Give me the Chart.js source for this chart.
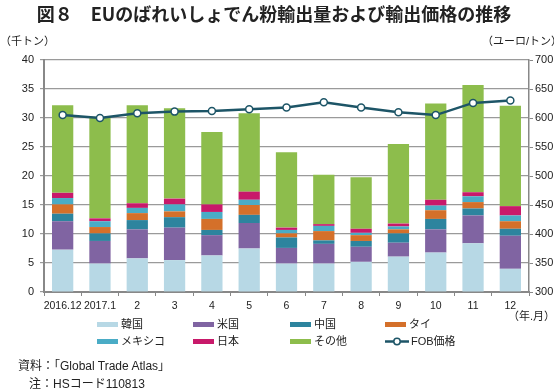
<!DOCTYPE html>
<html>
<head>
<meta charset="utf-8">
<script src="https://cdn.jsdelivr.net/npm/chart.js@4.4.1/dist/chart.umd.min.js"></script>
<style>
  body { margin: 0; background: #fff; }
  .wrap { position: relative; width: 554px; height: 392px; overflow: hidden;
    font-family: "Liberation Sans", "Noto Sans CJK JP", sans-serif; color: #222; }
  canvas { position: absolute; left: 0; top: 0; }
  .title { position: absolute; left: 0; top: 2px; width: 548px; text-align: center;
    font-family: "Noto Sans CJK JP", sans-serif; font-weight: bold; font-size: 18px; line-height: 22px; color: #222; }
  .txt { position: absolute; font-size: 11px; line-height: 13px; white-space: nowrap; }
  .jp { font-family: "Liberation Sans", "Noto Sans CJK JP", sans-serif; }
  .legend { position: absolute; left: 0; top: 318px; width: 554px; height: 36px; }
  .item { position: absolute; font-size: 11px; line-height: 13px; display: flex; align-items: center; white-space: nowrap; }
  .sw { width: 21px; height: 5px; margin-right: 3px; }
  .note { position: absolute; font-size: 12px; line-height: 14px; white-space: nowrap; }
</style>
</head>
<body>
<div class="wrap">
  <canvas id="chart" width="554" height="392"></canvas>
  <div class="title">図８　EUのばれいしょでん粉輸出量および輸出価格の推移</div>
  <div class="txt jp" style="left:0px; top:35px;">（千トン）</div>
  <div class="txt jp" style="left:482px; top:35px;">（ユーロ/トン）</div>
  <div class="txt jp" style="left:508px; top:310px;">（年.月）</div>
  <div class="legend" id="legend"></div>
  <div class="note jp" style="left:18px; top:359px;">資料：「Global Trade Atlas」</div>
  <div class="note jp" style="left:29px; top:377px;">注：HSコード110813</div>
</div>
<script>
const months = ["2016.12", "2017.1", "2", "3", "4", "5", "6", "7", "8", "9", "10", "11", "12"];

// 千トン
const korea = [7.3, 4.9, 5.8, 5.5, 6.3, 7.5, 4.9, 4.9, 5.2, 6.1, 6.8, 8.4, 4.0];
const usa = [4.9, 3.9, 5.0, 5.6, 3.5, 4.4, 2.7, 3.4, 2.6, 2.4, 4.0, 4.8, 5.7];
const china = [1.3, 1.3, 1.6, 1.8, 0.9, 1.4, 1.8, 0.6, 1.0, 1.6, 1.8, 1.2, 1.2];
const thai = [1.6, 1.1, 1.2, 1.0, 1.9, 1.7, 0.7, 1.6, 1.0, 0.7, 1.5, 1.1, 1.3];
const mexico = [1.1, 1.0, 0.9, 1.2, 1.2, 0.9, 0.6, 0.9, 0.4, 0.5, 0.8, 1.0, 1.0];
const japan = [0.9, 0.5, 0.8, 1.0, 1.3, 1.4, 0.4, 0.3, 0.7, 0.5, 1.0, 0.7, 1.6];
const other = [15.1, 17.5, 16.9, 15.6, 12.5, 13.5, 13.0, 8.5, 8.9, 13.7, 16.6, 18.5, 17.3];

// ユーロ/トン
const fobPrice = [605, 600, 608, 611, 612, 615, 618, 627, 618, 610, 605, 626, 630];

const lineColor = "#1D5567";

const barSeries = [
  { label: "韓国", data: korea, color: "#B7D8E5" },
  { label: "米国", data: usa, color: "#8064A2" },
  { label: "中国", data: china, color: "#2D849E" },
  { label: "タイ", data: thai, color: "#D4702A" },
  { label: "メキシコ", data: mexico, color: "#4AACC6" },
  { label: "日本", data: japan, color: "#C8196A" },
  { label: "その他", data: other, color: "#8DBD4C" },
];

const tickFont = { family: "'Liberation Sans', Arial, sans-serif", size: 11 };

const datasets = barSeries.map((s) => ({
  type: "bar",
  label: s.label,
  data: s.data,
  backgroundColor: s.color,
  yAxisID: "y",
  stack: "vol",
  order: 1,
  categoryPercentage: 1,
  barPercentage: 0.57,
}));

datasets.push({
  type: "line",
  label: "FOB価格",
  data: fobPrice,
  yAxisID: "y2",
  borderColor: lineColor,
  borderWidth: 2.5,
  pointRadius: 3.5,
  pointBackgroundColor: "#fff",
  pointBorderColor: lineColor,
  pointBorderWidth: 1.5,
  tension: 0,
  order: 0,
});

new Chart(document.getElementById("chart"), {
  type: "bar",
  data: { labels: months, datasets: datasets },
  options: {
    responsive: false,
    animation: false,
    devicePixelRatio: 1,
    layout: { padding: { top: 60, bottom: 80, left: 0, right: 0 } },
    plugins: {
      legend: { display: false },
      tooltip: { enabled: false },
    },
    scales: {
      x: {
        stacked: true,
        afterFit: (s) => { s.height = 20; },
        grid: { offset: true, drawOnChartArea: false, tickLength: 4, color: "#888" },
        border: { color: "#888", width: 2 },
        ticks: { font: { family: tickFont.family, size: 10.5 }, color: "#222", padding: 4, maxRotation: 0, autoSkip: false },
      },
      y: {
        stacked: true,
        position: "left",
        min: 0,
        max: 40,
        afterFit: (s) => { s.width = 44; },
        grid: { color: "#9a9a9a", tickLength: 4, lineWidth: 1.2 },
        border: { color: "#888", width: 2 },
        ticks: { stepSize: 5, font: tickFont, color: "#222", padding: 6 },
      },
      y2: {
        position: "right",
        min: 300,
        max: 700,
        afterFit: (s) => { s.width = 25; },
        grid: { drawOnChartArea: false, tickLength: 4, color: "#888" },
        border: { color: "#888", width: 1.5 },
        ticks: { stepSize: 50, font: tickFont, color: "#222", padding: 2 },
      },
    },
  },
});

// legend: 2 rows x 4 columns
const legendCols = [97, 193, 290, 385];
const legendRows = [0, 17];
const legendEl = document.getElementById("legend");
const legendItems = barSeries.map((s) => ({ label: s.label, color: s.color, line: false }));
legendItems.push({ label: "FOB価格", color: lineColor, line: true });
legendItems.forEach((it, i) => {
  const div = document.createElement("div");
  div.className = "item";
  div.style.left = legendCols[i % 4] + "px";
  div.style.top = legendRows[Math.floor(i / 4)] + "px";
  if (it.line) {
    div.innerHTML =
      '<svg width="24" height="9" style="margin-right:2px"><line x1="0" y1="4.5" x2="24" y2="4.5" stroke="' +
      it.color + '" stroke-width="2.5"/><circle cx="12" cy="4.5" r="3.2" fill="#fff" stroke="' +
      it.color + '" stroke-width="1.5"/></svg><span>' + it.label + "</span>";
  } else {
    div.innerHTML = '<span class="sw" style="background:' + it.color + '"></span><span>' + it.label + "</span>";
  }
  legendEl.appendChild(div);
});
</script>
</body>
</html>
